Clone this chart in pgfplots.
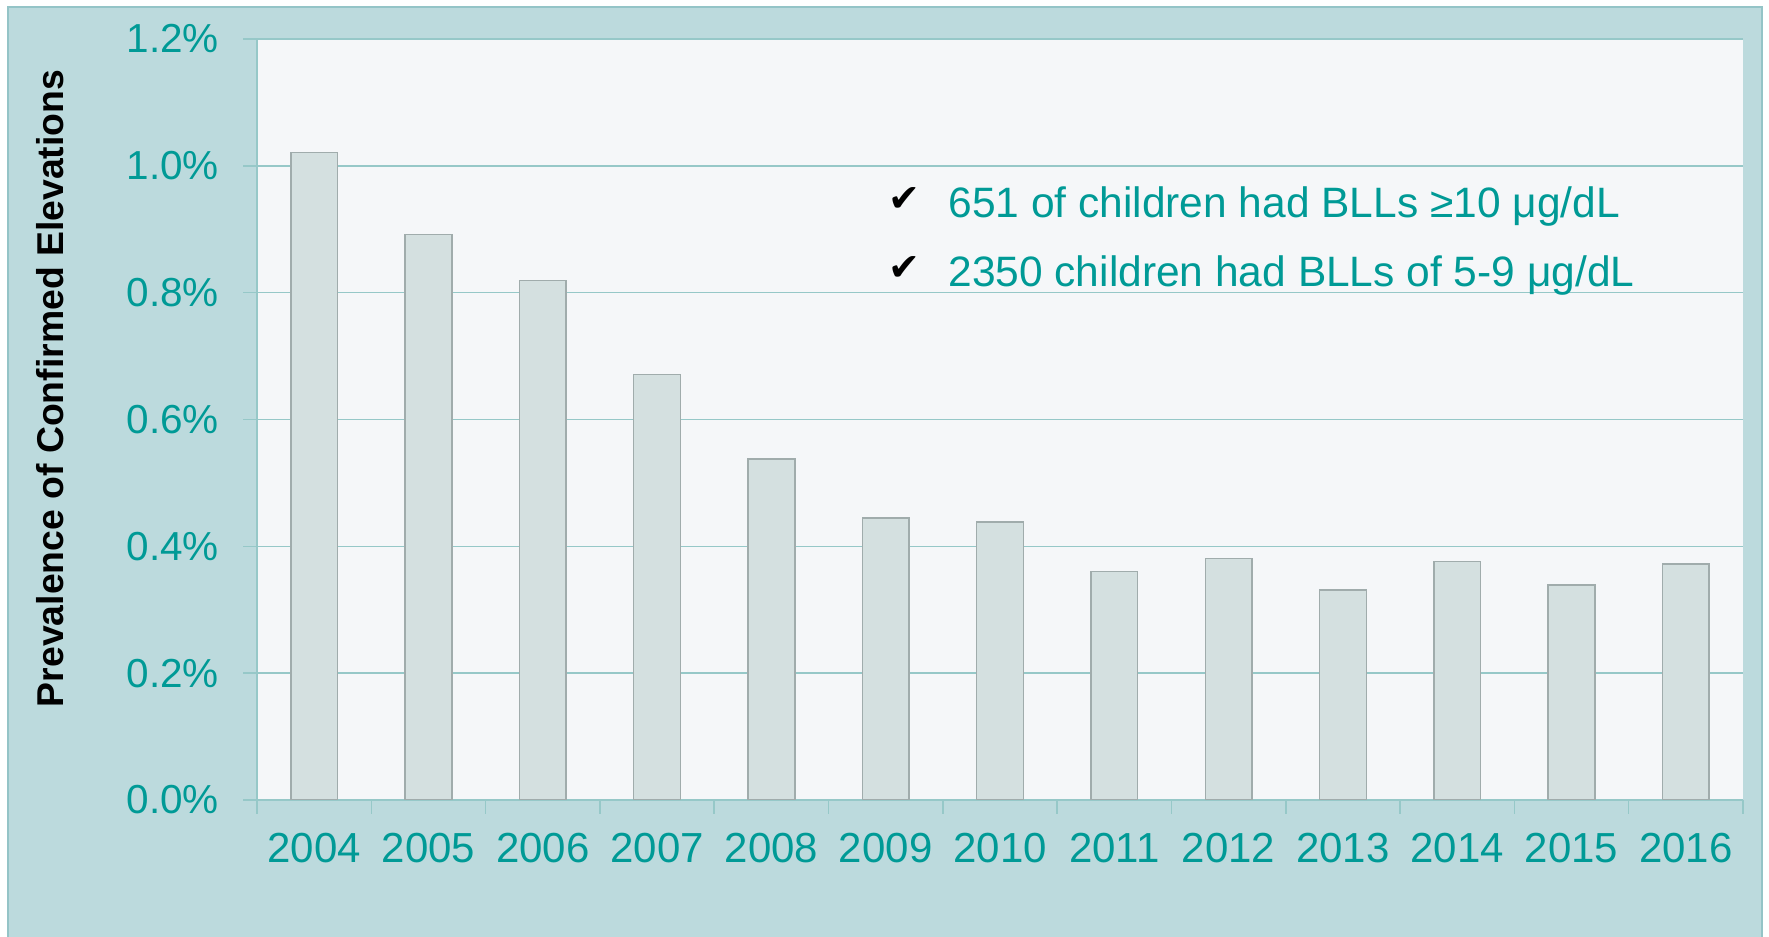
\documentclass[border=0pt]{standalone}
\usepackage{pgfplots}
\pgfplotsset{compat=1.18}
\usepackage{fontspec}
\setmainfont{Liberation Sans}
\newfontfamily\symfont{DejaVu Sans}
\definecolor{panel}{HTML}{BCDADD}
\definecolor{panelborder}{HTML}{94C4C7}
\definecolor{plotbg}{HTML}{F5F7F9}
\definecolor{gridc}{HTML}{96C8C8}
\definecolor{tealtext}{HTML}{009A96}
\definecolor{barfill}{HTML}{D4E0E0}
\definecolor{baredge}{HTML}{A0ACAC}
\begin{document}
\begin{tikzpicture}[x=1bp,y=1bp]
\useasboundingbox (0,0) rectangle (884.5,468.5);
\fill[white] (0,0) rectangle (884.5,468.5);
\filldraw[fill=panel, draw=panelborder, line width=1bp] (4,-5) rectangle (881,465);
\begin{axis}[
  at={(128.5bp,68.5bp)}, anchor=south west,
  scale only axis, width=743bp, height=380.5bp,
  xmin=-0.5, xmax=12.5, ymin=0, ymax=1.2,
  axis x line=bottom, axis y line=left,
  axis line style={draw=gridc, line width=0.75bp, -},
  axis background/.style={fill=plotbg},
  ymajorgrids, grid style={draw=gridc, line width=0.75bp},
  ytick={0,0.2,0.4,0.6,0.8,1.0,1.2},
  yticklabels={0.0\%,0.2\%,0.4\%,0.6\%,0.8\%,1.0\%,1.2\%},
  xtick={-0.5,0.5,1.5,2.5,3.5,4.5,5.5,6.5,7.5,8.5,9.5,10.5,11.5,12.5},
  xticklabels={,,,,,,,,,,,,,},
  extra x ticks={0,1,2,3,4,5,6,7,8,9,10,11,12},
  extra x tick labels={2004,2005,2006,2007,2008,2009,2010,2011,2012,2013,2014,2015,2016},
  extra x tick style={major tick length=0pt},
  tick align=outside, major tick length=7bp,
  tick style={draw=gridc, line width=0.75bp},
  x tick label style={font=\fontsize{21bp}{25bp}\selectfont, text=tealtext, yshift=-13bp},
  y tick label style={font=\fontsize{20.25bp}{24bp}\selectfont, text=tealtext, xshift=-8.5bp},
]
\addplot[ybar, bar width=23.35bp, fill=barfill, draw=baredge, line width=0.75bp] coordinates {
  (0,1.021) (1,0.892) (2,0.819) (3,0.671) (4,0.538) (5,0.445) (6,0.438)
  (7,0.360) (8,0.381) (9,0.331) (10,0.376) (11,0.339) (12,0.372)
};
\end{axis}
\node[rotate=90, anchor=base, inner sep=0pt, font=\fontsize{18.67bp}{22bp}\selectfont\bfseries] at (31.5,274.25) {Prevalence of Confirmed Elevations};
\node[inner sep=0pt, font=\fontsize{19bp}{22bp}\symfont] at (452.25,368.5) {✔};
\node[inner sep=0pt, font=\fontsize{19bp}{22bp}\symfont] at (452.25,334.25) {✔};
\node[anchor=base west, inner sep=0pt, text=tealtext, font=\fontsize{21.25bp}{25bp}\selectfont] at (474,359.5) {651 of children had BLLs ≥10 μg/dL};
\node[anchor=base west, inner sep=0pt, text=tealtext, font=\fontsize{21.25bp}{25bp}\selectfont] at (474,325) {2350 children had BLLs of 5-9 μg/dL};
\end{tikzpicture}
\end{document}
